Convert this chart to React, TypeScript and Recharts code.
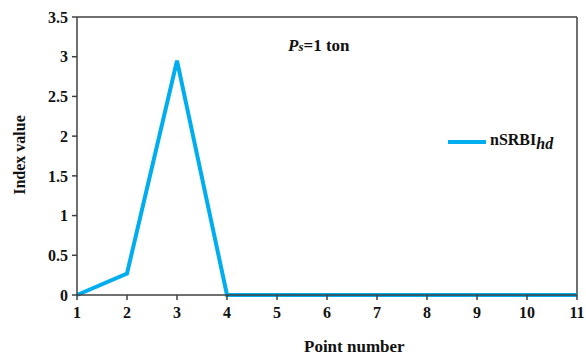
import { Legend, Line, LineChart, ReferenceLine, XAxis, YAxis } from "recharts";

const pointNumbers = [1, 2, 3, 4, 5, 6, 7, 8, 9, 10, 11];
const indexValues = [0, 0.27, 2.95, 0, 0, 0, 0, 0, 0, 0, 0];
const yTicks = [0, 0.5, 1, 1.5, 2, 2.5, 3, 3.5];

const data = pointNumbers.map((p, i) => ({ point: p, value: indexValues[i] }));

const font = "'Liberation Serif', 'Times New Roman', serif";
const axisColor = "#404040";
const lineColor = "#00AEEF";

function LegendBox() {
  return (
    <div style={{ display: "flex", alignItems: "center", fontFamily: font, fontWeight: 700, fontSize: 16, color: "#111" }}>
      <span style={{ display: "inline-block", width: 38, height: 4, background: lineColor, marginRight: 4 }} />
      <span>
        nSRBI
        <sub style={{ fontStyle: "italic", fontSize: 16, verticalAlign: "-4px" }}>hd</sub>
      </span>
    </div>
  );
}

export default function App() {
  return (
    <div style={{ position: "absolute", left: 0, top: 0, width: 586, height: 358, background: "#fff" }}>
      <LineChart width={586} height={358} data={data} margin={{ top: 17, right: 9, bottom: 33, left: 37 }}>
        <XAxis
          dataKey="point"
          type="number"
          domain={[1, 11]}
          ticks={pointNumbers}
          height={30}
          stroke={axisColor}
          strokeWidth={1.5}
          tickSize={5}
          tickMargin={7}
          tick={{ fill: "#111", fontSize: 16, fontWeight: 700, fontFamily: font }}
        />
        <YAxis
          type="number"
          domain={[0, 3.5]}
          ticks={yTicks}
          width={40}
          stroke={axisColor}
          strokeWidth={1.5}
          tickSize={5}
          tickMargin={4}
          tick={{ fill: "#111", fontSize: 16, fontWeight: 700, fontFamily: font }}
        />
        <ReferenceLine y={3.5} stroke={axisColor} strokeWidth={1.5} />
        <ReferenceLine x={11} stroke={axisColor} strokeWidth={1.5} />
        <Legend
          layout="horizontal"
          verticalAlign="middle"
          align="center"
          content={<LegendBox />}
          wrapperStyle={{ left: 448, top: 131, width: "auto" }}
        />
        <Line
          type="linear"
          dataKey="value"
          stroke={lineColor}
          strokeWidth={4}
          dot={false}
          isAnimationActive={false}
        />
      </LineChart>
      <div
        style={{
          position: "absolute",
          left: 20,
          top: 155,
          transform: "translate(-50%, -50%) rotate(-90deg)",
          fontFamily: font,
          fontWeight: 700,
          fontSize: 16,
          whiteSpace: "nowrap",
          color: "#111",
        }}
      >
        Index value
      </div>
      <div
        style={{
          position: "absolute",
          left: 304,
          top: 337,
          fontFamily: font,
          fontWeight: 700,
          fontSize: 17,
          whiteSpace: "nowrap",
          color: "#111",
        }}
      >
        Point number
      </div>
      <div
        style={{
          position: "absolute",
          left: 288,
          top: 36,
          fontFamily: font,
          fontWeight: 700,
          fontSize: 17,
          whiteSpace: "nowrap",
          color: "#111",
        }}
      >
        <i>P</i>
        <i style={{ fontSize: 13 }}>s</i>=1 ton
      </div>
    </div>
  );
}
